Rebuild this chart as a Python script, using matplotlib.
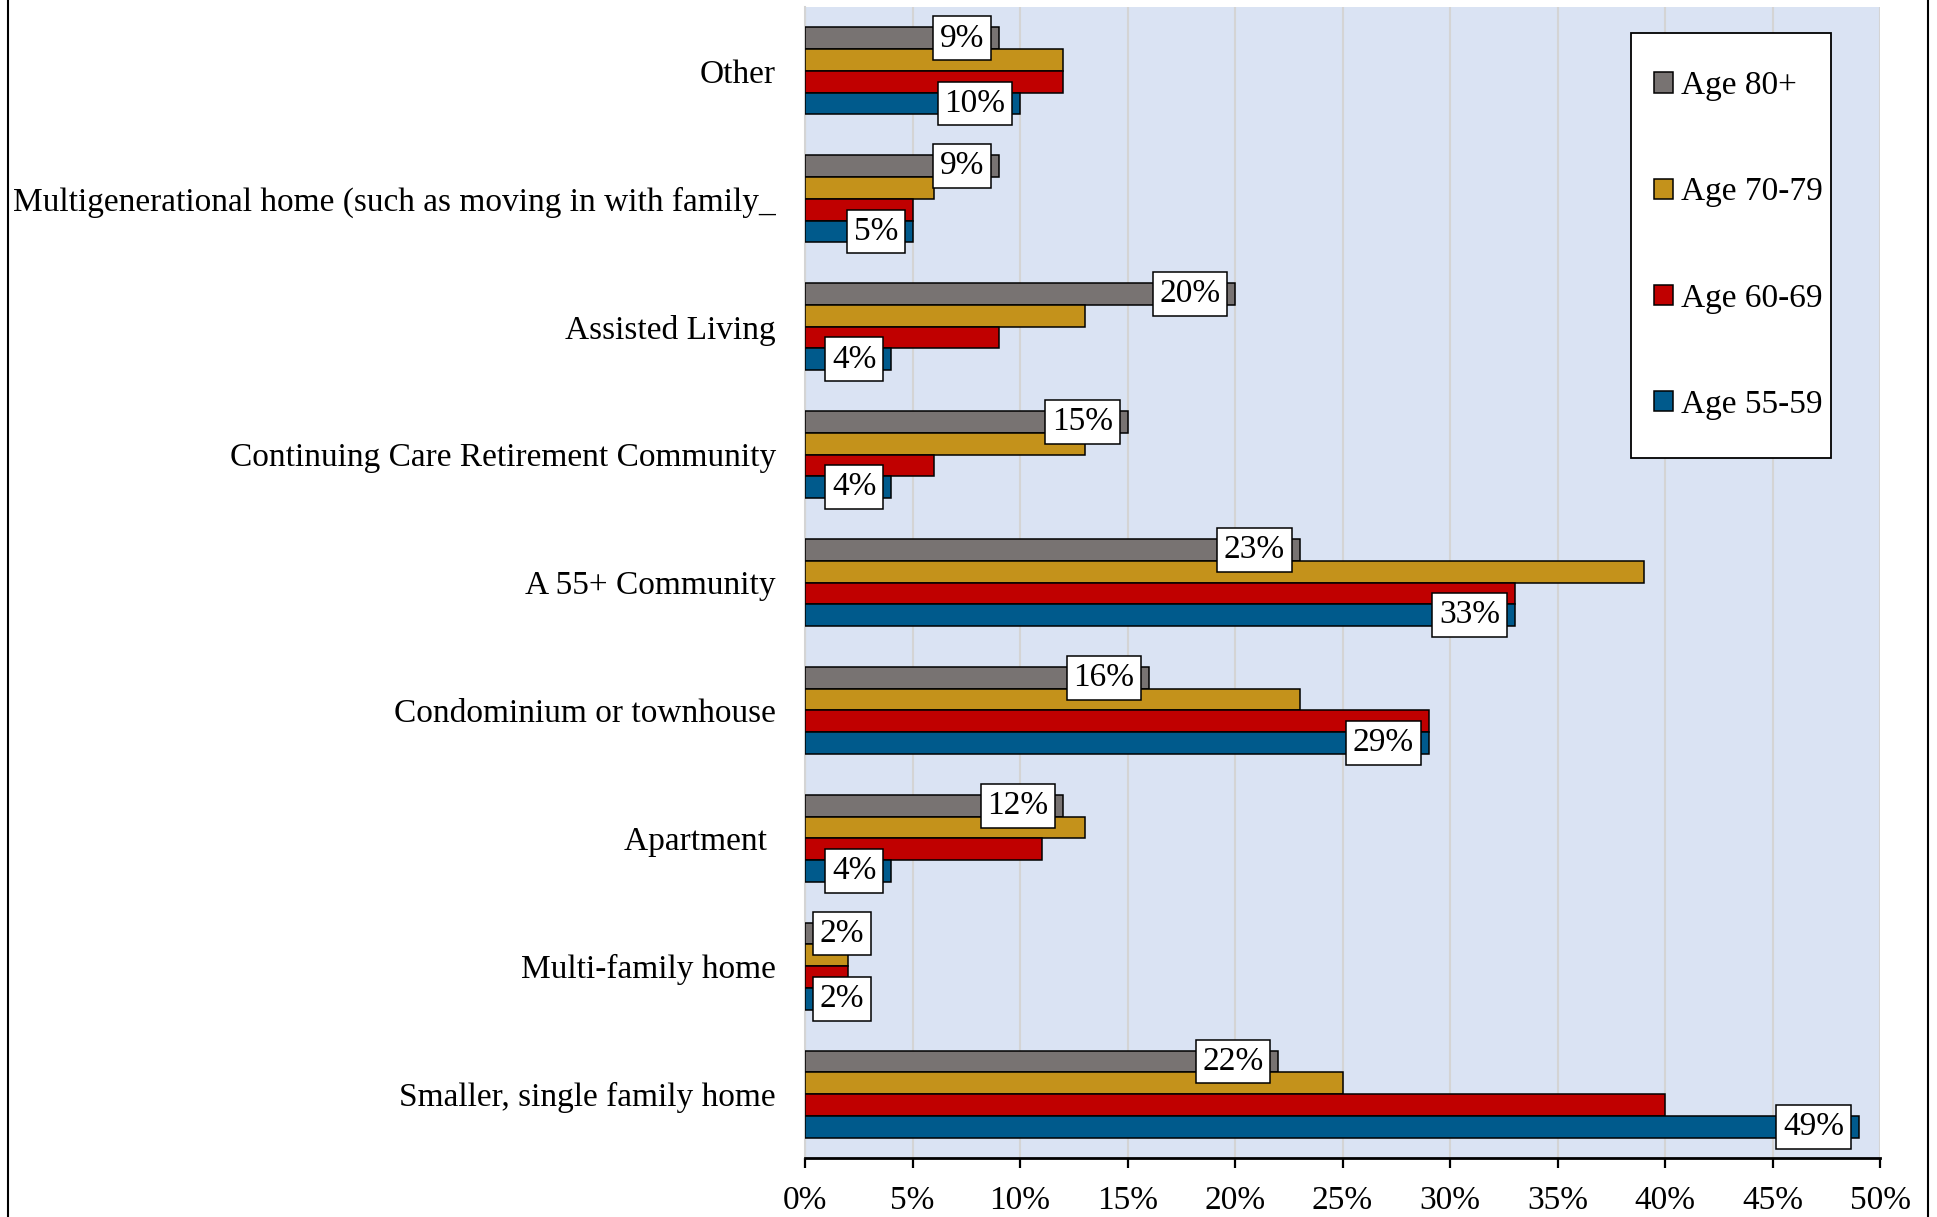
import numpy as np
import matplotlib.pyplot as plt
from matplotlib.lines import Line2D
from matplotlib.patches import Rectangle

# categories listed top to bottom as in the chart
categories = [
    "Other",
    "Multigenerational home (such as moving in with family_",
    "Assisted Living",
    "Continuing Care Retirement Community",
    "A 55+ Community",
    "Condominium or townhouse",
    "Apartment ",
    "Multi-family home",
    "Smaller, single family home",
]

series_names = ["Age 80+", "Age 70-79", "Age 60-69", "Age 55-59"]
age_80_plus = [9, 9, 20, 15, 23, 16, 12, 2, 22]
age_70_79 = [12, 6, 13, 13, 39, 23, 13, 2, 25]
age_60_69 = [12, 5, 9, 6, 33, 29, 11, 2, 40]
age_55_59 = [10, 5, 4, 4, 33, 29, 4, 2, 49]

x_ticks = [0, 5, 10, 15, 20, 25, 30, 35, 40, 45, 50]
x_tick_labels = [f"{t}%" for t in x_ticks]

colors = ["#787372", "#C4921B", "#C00000", "#005A8C"]
labelled = [True, False, False, True]  # only 80+ and 55-59 carry labels

plt.rcParams["font.family"] = ["Liberation Serif", "DejaVu Serif"]
FS = 24

fig = plt.figure(figsize=(19.37, 12.17), dpi=100)
ax = fig.add_axes([805 / 1937, 1 - 1158 / 1217, 1075 / 1937, 1151 / 1217])
ax.set_facecolor("#DAE3F3")

y = np.arange(len(categories))
h = 0.17
all_series = [age_80_plus, age_70_79, age_60_69, age_55_59]
offsets = [-1.5 * h, -0.5 * h, 0.5 * h, 1.5 * h]

for vals, name, col, off, lab in zip(all_series, series_names, colors, offsets, labelled):
    ax.barh(y + off, vals, height=h, color=col, edgecolor="black",
            linewidth=1.1, label=name, zorder=3)
    if lab:
        for yi, v in zip(y, vals):
            box = dict(boxstyle="square,pad=0.2", fc="white", ec="black", lw=1.1)
            if v < 3:
                ax.annotate(f"{v}%", xy=(0, yi + off), xytext=(10.5, 0),
                            textcoords="offset points", ha="left", va="center",
                            fontsize=FS, bbox=box, zorder=5)
            else:
                ax.annotate(f"{v}%", xy=(v, yi + off), xytext=(-10.5, 0),
                            textcoords="offset points", ha="right", va="center",
                            fontsize=FS, bbox=box, zorder=5)

ax.set_xlim(0, 50)
ax.set_ylim(-0.5, len(categories) - 0.5)
ax.invert_yaxis()
ax.set_yticks(y)
ax.set_yticklabels(categories, fontsize=FS)
ax.set_xticks(x_ticks)
ax.set_xticklabels(x_tick_labels, fontsize=FS)
ax.tick_params(axis="y", length=0, pad=21)
ax.tick_params(axis="x", length=7, width=1.6, direction="out", pad=13)

ax.grid(axis="x", color="#D4D4D4", linewidth=1.5, zorder=0)
for s in ["top", "right"]:
    ax.spines[s].set_visible(False)
ax.spines["left"].set_color("#D4D4D4")
ax.spines["left"].set_linewidth(1.5)
ax.spines["bottom"].set_linewidth(2)

# legend frame drawn by hand so the padding can differ per side
ax.add_patch(Rectangle((0.768, 0.608), 0.186, 0.369, transform=ax.transAxes,
                       fc="white", ec="black", lw=1.3, zorder=6))
leg = ax.legend(loc="center left", bbox_to_anchor=(0.790, 0.793), fontsize=FS,
                frameon=False, handlelength=0.55, handleheight=0.55,
                handletextpad=0.25, labelspacing=2.27, borderpad=0,
                borderaxespad=0)
leg.set_zorder(7)

# outer frame lines on left and right
fig.add_artist(Line2D([7.5 / 1937, 7.5 / 1937], [0, 1], color="black", lw=1.5))
fig.add_artist(Line2D([1928 / 1937, 1928 / 1937], [0, 1], color="black", lw=1.5))

fig.savefig("out.png", dpi=100)
